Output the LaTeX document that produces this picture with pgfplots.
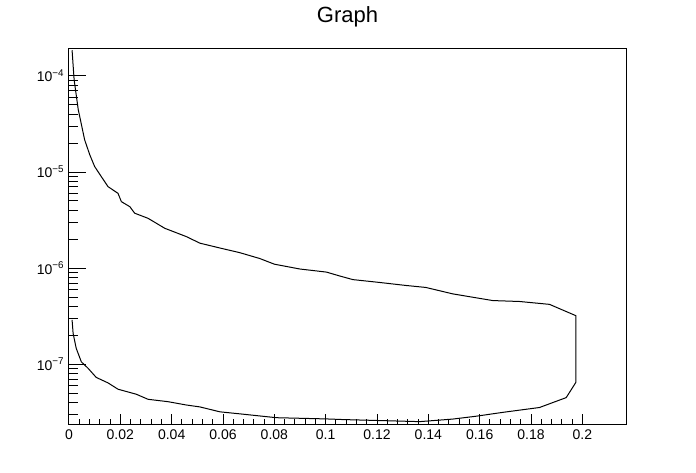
\documentclass[border=0pt]{standalone}
\usepackage{fontspec}
\setmainfont{Liberation Sans}
\usepackage{pgfplots}
\pgfplotsset{compat=1.18}
\begin{document}
\begin{tikzpicture}
\useasboundingbox (-51.75pt,-36pt) rectangle (470.25pt,318pt);
\begin{axis}[
  name=ax,
  at={(0pt,0pt)}, anchor=south west,
  scale only axis, width=417.75pt, height=281.8pt,
  ymode=log,
  xmin=0, xmax=0.217, ymin=2.39e-8, ymax=1.94e-4,
  axis line style={line width=0.75pt},
  tick align=inside, xtick pos=left, ytick pos=left,
  tick style={black, line width=0.75pt},
  xtick={0,0.02,0.04,0.06,0.08,0.1,0.12,0.14,0.16,0.18,0.2},
  xticklabels={0,0.02,0.04,0.06,0.08,0.1,0.12,0.14,0.16,0.18,0.2},
  minor x tick num=4,
  xtick style={/pgfplots/major tick length=7.5pt, /pgfplots/minor tick length=3.75pt},
  ytick={1e-7,1e-6,1e-5,1e-4},
  yticklabels={10\textsuperscript{−7},10\textsuperscript{−6},10\textsuperscript{−5},10\textsuperscript{−4}},
  minor ytick={3e-8,4e-8,5e-8,6e-8,7e-8,8e-8,9e-8,2e-7,3e-7,4e-7,5e-7,6e-7,7e-7,8e-7,9e-7,2e-6,3e-6,4e-6,5e-6,6e-6,7e-6,8e-6,9e-6,2e-5,3e-5,4e-5,5e-5,6e-5,7e-5,8e-5,9e-5},
  ytick style={/pgfplots/major tick length=12.75pt, /pgfplots/minor tick length=6.4pt},
  ticklabel style={font=\fontsize{10.5pt}{12pt}\selectfont},
  xticklabel style={yshift=-1pt},
]
\addplot[black, line width=0.75pt] coordinates {
(0.0012,1.85e-4)
(0.0020,9.1e-5)
(0.0036,4.47e-5)
(0.0061,2.16e-5)
(0.0081,1.51e-5)
(0.0100,1.14e-5)
(0.0126,8.95e-6)
(0.0152,7.05e-6)
(0.0191,6.0e-6)
(0.0204,4.92e-6)
(0.0237,4.36e-6)
(0.0256,3.73e-6)
(0.0308,3.30e-6)
(0.0373,2.60e-6)
(0.0457,2.13e-6)
(0.0510,1.82e-6)
(0.0588,1.62e-6)
(0.0665,1.45e-6)
(0.0743,1.26e-6)
(0.0800,1.10e-6)
(0.0899,9.8e-7)
(0.1003,9.1e-7)
(0.1054,8.3e-7)
(0.1106,7.6e-7)
(0.1210,7.1e-7)
(0.1314,6.6e-7)
(0.1390,6.3e-7)
(0.1495,5.4e-7)
(0.1651,4.6e-7)
(0.1755,4.5e-7)
(0.1872,4.2e-7)
(0.1975,3.2e-7)
(0.1975,6.5e-8)
(0.1937,4.5e-8)
(0.1833,3.55e-8)
(0.1690,3.16e-8)
(0.1586,2.88e-8)
(0.1495,2.69e-8)
(0.1366,2.53e-8)
(0.1066,2.66e-8)
(0.1003,2.70e-8)
(0.0808,2.78e-8)
(0.0665,3.05e-8)
(0.0588,3.2e-8)
(0.0510,3.6e-8)
(0.0457,3.77e-8)
(0.0386,4.08e-8)
(0.0308,4.32e-8)
(0.0262,4.88e-8)
(0.0191,5.5e-8)
(0.0152,6.4e-8)
(0.0106,7.3e-8)
(0.0074,9.1e-8)
(0.0048,1.06e-7)
(0.0028,1.47e-7)
(0.0016,2.10e-7)
(0.0012,2.89e-7)
};
\end{axis}
\node[anchor=base, font=\fontsize{16.5pt}{18pt}\selectfont] at ([yshift=19pt]ax.north) {Graph};
\end{tikzpicture}
\end{document}
